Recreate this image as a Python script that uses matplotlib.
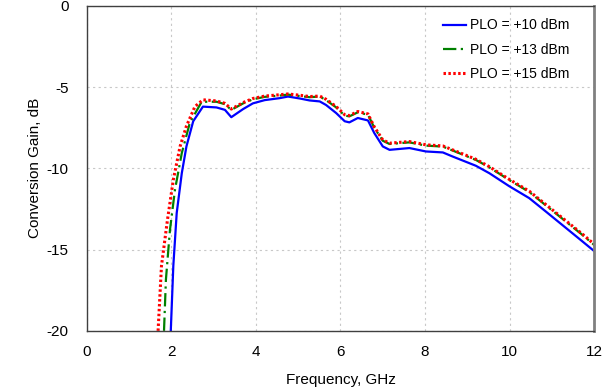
import matplotlib
matplotlib.use("Agg")
import matplotlib.pyplot as plt

# Conversion gain vs frequency
freq_10 = [1.99, 2.05, 2.13, 2.25, 2.36, 2.52, 2.75, 3.07, 3.27, 3.42, 3.70, 3.93, 4.21,
           4.56, 4.76, 5.04, 5.27, 5.51, 5.66, 5.90, 6.10, 6.21, 6.41, 6.65, 6.80, 7.00,
           7.16, 7.63, 8.02, 8.42, 8.65, 9.20, 9.52, 9.99, 10.46, 10.85, 11.33, 11.72, 12.0]
gain_10 = [-20.0, -16.0, -12.75, -10.3, -8.65, -7.1, -6.2, -6.25, -6.4, -6.85, -6.35, -6.0, -5.8,
           -5.68, -5.58, -5.7, -5.82, -5.88, -6.1, -6.6, -7.1, -7.17, -6.9, -7.05, -7.83, -8.65,
           -8.86, -8.75, -8.96, -9.02, -9.27, -9.84, -10.3, -11.1, -11.83, -12.65, -13.67, -14.5, -15.1]

freq_13 = [1.83, 1.875, 1.97, 2.09, 2.25, 2.44, 2.72, 3.07, 3.27, 3.42, 3.70, 3.93, 4.21,
           4.56, 4.76, 5.04, 5.27, 5.51, 5.66, 5.90, 6.10, 6.21, 6.41, 6.65, 6.80, 7.00,
           7.16, 7.63, 8.02, 8.42, 8.65, 9.20, 9.52, 9.99, 10.46, 10.85, 11.33, 11.72, 12.0]
gain_13 = [-20.0, -16.85, -13.8, -11.3, -9.06, -7.2, -5.9, -5.9, -6.05, -6.4, -6.0, -5.75, -5.6,
           -5.52, -5.46, -5.55, -5.62, -5.58, -5.8, -6.25, -6.75, -6.8, -6.55, -6.7, -7.5, -8.3,
           -8.5, -8.4, -8.6, -8.66, -8.9, -9.48, -9.94, -10.72, -11.45, -12.27, -13.28, -14.1, -14.72]

freq_15 = [1.69, 1.77, 1.91, 2.05, 2.21, 2.36, 2.56, 2.75, 3.07, 3.27, 3.42, 3.70, 3.93, 4.21,
           4.56, 4.76, 5.04, 5.27, 5.51, 5.66, 5.90, 6.10, 6.21, 6.41, 6.65, 6.80, 7.00,
           7.16, 7.63, 8.02, 8.42, 8.65, 9.20, 9.52, 9.99, 10.46, 10.85, 11.33, 11.72, 12.0]
gain_15 = [-20.0, -16.0, -13.2, -10.7, -8.65, -7.4, -6.2, -5.78, -5.85, -6.0, -6.35, -5.95, -5.7, -5.55,
           -5.47, -5.42, -5.5, -5.58, -5.55, -5.75, -6.2, -6.7, -6.75, -6.5, -6.65, -7.45, -8.25,
           -8.45, -8.35, -8.55, -8.62, -8.86, -9.44, -9.9, -10.68, -11.4, -12.22, -13.23, -14.05, -14.68]

labels = ["PLO = +10 dBm", "PLO = +13 dBm", "PLO = +15 dBm"]

plt.rcParams['font.family'] = ['Liberation Sans', 'DejaVu Sans']
plt.rcParams['font.size'] = 10
plt.rcParams['axes.unicode_minus'] = False

fig = plt.figure(figsize=(6.14, 3.92), dpi=100)
ax = fig.add_axes([0.141, 0.156, 0.827, 0.829])

ax.plot(freq_10, gain_10, color='#0000ff', lw=1.6, label=labels[0])
ax.plot(freq_13, gain_13, color='#008000', lw=1.6, dashes=(6, 2, 1, 2), label=labels[1])
ax.plot(freq_15, gain_15, color='#ff0000', lw=2.2, linestyle=(0, (0.8, 0.8)), label=labels[2])

ax.set_xlim(0, 12)
ax.set_ylim(-20, 0)
ax.set_xticks(range(0, 13, 2))
ax.set_yticks(range(-20, 1, 5))
ax.tick_params(axis='y', length=0, pad=13, labelsize=11)
ax.tick_params(axis='x', length=0, pad=10, labelsize=11)
ax.grid(True, linestyle=(0, (2, 3)), color='#c8c8c8', lw=0.8)

for side in ['left', 'bottom', 'top']:
    ax.spines[side].set_color('#404040')
    ax.spines[side].set_linewidth(1.0)
ax.spines['right'].set_color('#808080')
ax.spines['right'].set_linewidth(2.0)

ax.set_xlabel('Frequency, GHz', fontsize=11, labelpad=10)
ax.set_ylabel('Conversion Gain, dB', fontsize=11, labelpad=3)

ax.legend(loc='upper right', bbox_to_anchor=(0.975, 1.0), frameon=False,
          handlelength=1.6, handletextpad=0.3, labelspacing=0.75, fontsize=10)

fig.savefig('out.png', dpi=100)
